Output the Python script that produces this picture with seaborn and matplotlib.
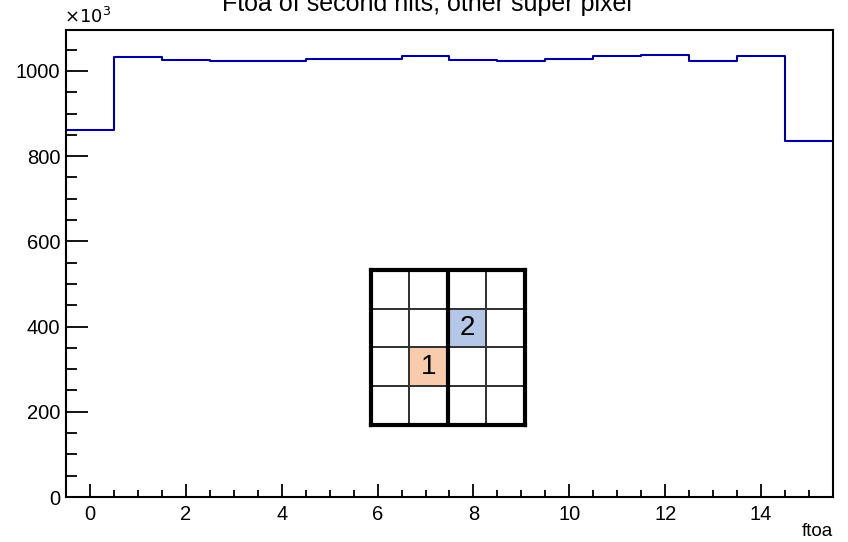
import numpy as np
import pandas as pd
import seaborn as sns
import matplotlib.pyplot as plt
from matplotlib.colors import ListedColormap
from matplotlib.ticker import MultipleLocator

# Contenu des bins (ftoa 0..15), en nombre d'entrées
ftoa_bins = list(range(16))
entries = [862000, 1032000, 1026000, 1024000, 1024000, 1027000, 1029000, 1035000,
           1026000, 1023000, 1029000, 1036000, 1038000, 1024000, 1035000, 836000]

# Schéma des pixels: 0 = vide, 1 = premier hit, 2 = second hit
pixel_state = [[0, 0, 0, 0],
               [0, 0, 2, 0],
               [0, 1, 0, 0],
               [0, 0, 0, 0]]
pixel_labels = [["", "", "", ""],
                ["", "", "2", ""],
                ["", "1", "", ""],
                ["", "", "", ""]]

title = "Ftoa of second hits, other super pixel"

sns.set_style("ticks")
plt.rcParams['font.family'] = ['Liberation Sans', 'DejaVu Sans']
plt.rcParams['text.color'] = 'black'
plt.rcParams['xtick.color'] = 'black'
plt.rcParams['ytick.color'] = 'black'

df = pd.DataFrame({"ftoa": ftoa_bins, "entries": np.array(entries) / 1000.0})

fig = plt.figure(figsize=(8.48, 5.42), dpi=100)
ax = fig.add_axes([0.0778, 0.083, 0.9045, 0.8616])

sns.histplot(data=df, x="ftoa", weights="entries", binwidth=1, binrange=(-0.5, 15.5),
             element="step", fill=False, color="#000099", linewidth=1.5, ax=ax)

ax.set_xlim(-0.5, 15.5)
ax.set_ylim(0, 1096)
ax.xaxis.set_major_locator(MultipleLocator(2))
ax.xaxis.set_minor_locator(MultipleLocator(0.5))
ax.yaxis.set_major_locator(MultipleLocator(200))
ax.yaxis.set_minor_locator(MultipleLocator(50))
ax.tick_params(axis='x', which='both', bottom=True, top=False)
ax.tick_params(axis='y', which='both', left=True, right=False)
ax.tick_params(axis='x', which='major', direction='in', length=9.5, width=1.3,
               labelsize=14.5, pad=6)
ax.tick_params(axis='x', which='minor', direction='in', length=4.8, width=1.3)
ax.tick_params(axis='y', which='major', direction='in', length=16, width=1.3,
               labelsize=14.5, pad=4)
ax.tick_params(axis='y', which='minor', direction='in', length=8, width=1.3)
for s in ax.spines.values():
    s.set_visible(True)
    s.set_linewidth(1.5)
    s.set_color("black")
ax.set_xlabel("")
ax.set_ylabel("")

fig.text(0.9823, 0.004, "ftoa", ha='right', va='bottom', fontsize=13.5)
fig.text(0.076, 0.95, r"$\times10^{3}$", ha='left', va='bottom', fontsize=13)
# titre coupé en haut, comme sur l'original
fig.text(0.503, 0.98, title, ha='center', va='baseline', fontsize=18)

# Schéma des pixels en encart
ins = fig.add_axes([0.4375, 0.2159, 0.1816, 0.286])
sns.heatmap(pixel_state, cmap=ListedColormap(["white", "#F8CBAD", "#B4C7E7"]),
            vmin=0, vmax=2, annot=np.array(pixel_labels), fmt="", cbar=False,
            linewidths=1.2, linecolor="#333333", square=False, ax=ins,
            annot_kws={"fontsize": 20, "color": "black"})
ins.set_xticks([])
ins.set_yticks([])
ins.axvline(2, color="black", lw=3)
for s in ins.spines.values():
    s.set_visible(True)
    s.set_linewidth(3)
    s.set_color("black")

fig.savefig("out.png", dpi=100)
